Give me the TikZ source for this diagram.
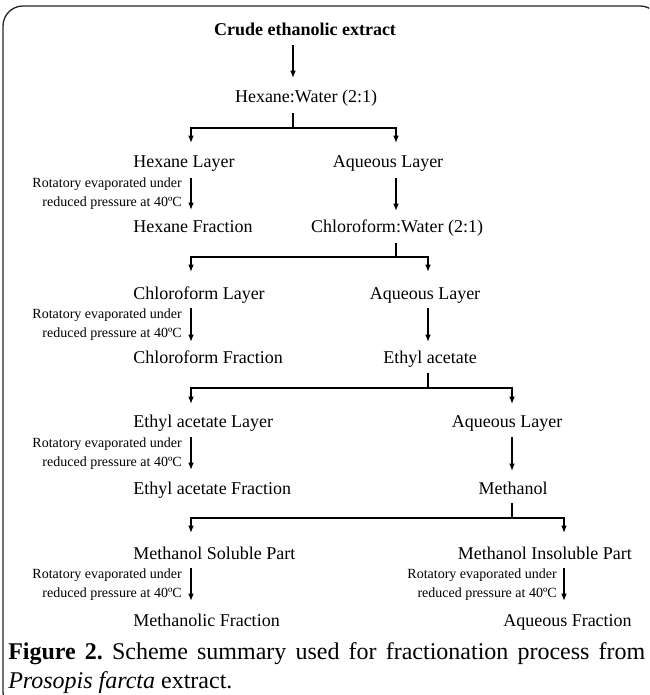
\documentclass[tikz,border=0pt]{standalone}
\usepackage{fontspec}
\setmainfont{Liberation Serif}
\usetikzlibrary{arrows.meta}
\frenchspacing
\begin{document}
\begin{tikzpicture}[x=0.75pt,y=-0.75pt,
  lbl/.style={font=\fontsize{13.5}{16}\selectfont, inner sep=0pt, anchor=base},
  lblw/.style={lbl, anchor=base west},
  lble/.style={lbl, anchor=base east},
  evap/.style={font=\fontsize{10.5}{14.25}\selectfont, align=right, inner sep=0pt, anchor=east},
  conn/.style={line width=0.9pt, draw=black},
  arr/.style={conn, -{Latex[length=5.5pt,width=4.2pt]}},
  frame/.style={line width=1pt, draw=black!85, rounded corners=15pt},
]
\useasboundingbox (0,0) rectangle (649,695);
\begin{scope}
  \clip (0,0) rectangle (649,695);
  \draw[frame] (3,6) rectangle (660,712);
\end{scope}

% ---- texts ----
\node[lbl, font=\bfseries\fontsize{13.5}{16}\selectfont] (title) at (305,36) {Crude ethanolic extract};
\node[lbl] (hw) at (306,103) {Hexane:Water (2:1)};
\node[lblw] (hexL) at (133,168) {Hexane Layer};
\node[lbl] (aq1) at (388,168) {Aqueous Layer};
\node[lblw] (hexF) at (133,233) {Hexane Fraction};
\node[lbl] (cw) at (397,233) {Chloroform:Water (2:1)};
\node[lblw] (chlL) at (133,299) {Chloroform Layer};
\node[lbl] (aq2) at (425,299) {Aqueous Layer};
\node[lblw] (chlF) at (133,363) {Chloroform Fraction};
\node[lbl] (ea) at (430,363) {Ethyl acetate};
\node[lblw] (eaL) at (133,427) {Ethyl acetate Layer};
\node[lbl] (aq3) at (507,427) {Aqueous Layer};
\node[lblw] (eaF) at (133,494) {Ethyl acetate Fraction};
\node[lbl] (me) at (513,494) {Methanol};
\node[lblw] (msp) at (133,559) {Methanol Soluble Part};
\node[lble] (mip) at (632,559) {Methanol Insoluble Part};
\node[lblw] (mf) at (133,626) {Methanolic Fraction};
\node[lble] (af) at (632,626) {Aqueous Fraction};

\node[evap] (ev1) at (182,194) {Rotatory evaporated under\\reduced pressure at 40ºC};
\node[evap] (ev2) at (182,325) {Rotatory evaporated under\\reduced pressure at 40ºC};
\node[evap] (ev3) at (182,454) {Rotatory evaporated under\\reduced pressure at 40ºC};
\node[evap] (ev4) at (182,585) {Rotatory evaporated under\\reduced pressure at 40ºC};
\node[evap] (ev5) at (557,585) {Rotatory evaporated under\\reduced pressure at 40ºC};

% ---- connectors ----
\coordinate (t1) at (293,45);  \coordinate (t2) at (293,78);
\draw[arr] (t1) -- (t2);

% split 1
\coordinate (s1) at (293,113); \coordinate (j1) at (293,128);
\coordinate (h1l) at (191,143); \coordinate (h1r) at (396,143);
\draw[conn] (s1) -- (j1);
\draw[arr] (j1) -| (h1l);
\draw[arr] (j1) -| (h1r);
\coordinate (e1a) at (191,178); \coordinate (e1b) at (191,210);
\draw[arr] (e1a) -- (e1b);
\coordinate (r1a) at (396,178); \coordinate (r1b) at (396,211);
\draw[arr] (r1a) -- (r1b);

% split 2
\coordinate (s2) at (396,243); \coordinate (j2) at (396,257);
\coordinate (h2l) at (191,272); \coordinate (h2r) at (428,272);
\draw[conn] (s2) -- (j2);
\draw[arr] (j2) -| (h2l);
\draw[arr] (j2) -| (h2r);
\coordinate (e2a) at (191,308); \coordinate (e2b) at (191,342);
\draw[arr] (e2a) -- (e2b);
\coordinate (r2a) at (428,308); \coordinate (r2b) at (428,342);
\draw[arr] (r2a) -- (r2b);

% split 3
\coordinate (s3) at (428,373); \coordinate (j3) at (428,388);
\coordinate (h3l) at (191,404); \coordinate (h3r) at (512,404);
\draw[conn] (s3) -- (j3);
\draw[arr] (j3) -| (h3l);
\draw[arr] (j3) -| (h3r);
\coordinate (e3a) at (191,437); \coordinate (e3b) at (191,470);
\draw[arr] (e3a) -- (e3b);
\coordinate (r3a) at (512,437); \coordinate (r3b) at (512,471);
\draw[arr] (r3a) -- (r3b);

% split 4
\coordinate (s4) at (512,503); \coordinate (j4) at (512,518);
\coordinate (h4l) at (191,533); \coordinate (h4r) at (564,533);
\draw[conn] (s4) -- (j4);
\draw[arr] (j4) -| (h4l);
\draw[arr] (j4) -| (h4r);
\coordinate (e4a) at (191,568); \coordinate (e4b) at (191,601);
\draw[arr] (e4a) -- (e4b);
\coordinate (r4a) at (564,568); \coordinate (r4b) at (564,601);
\draw[arr] (r4a) -- (r4b);

% ---- caption ----
\node[inner sep=0pt, anchor=north west, text width=477.75pt, align=justify,
      font=\fontsize{18}{22}\selectfont] (cap) at (8,642)
  {\textbf{Figure 2.} Scheme summary used for fractionation process from\linebreak
   \textit{Prosopis farcta} extract.};
\end{tikzpicture}
\end{document}
